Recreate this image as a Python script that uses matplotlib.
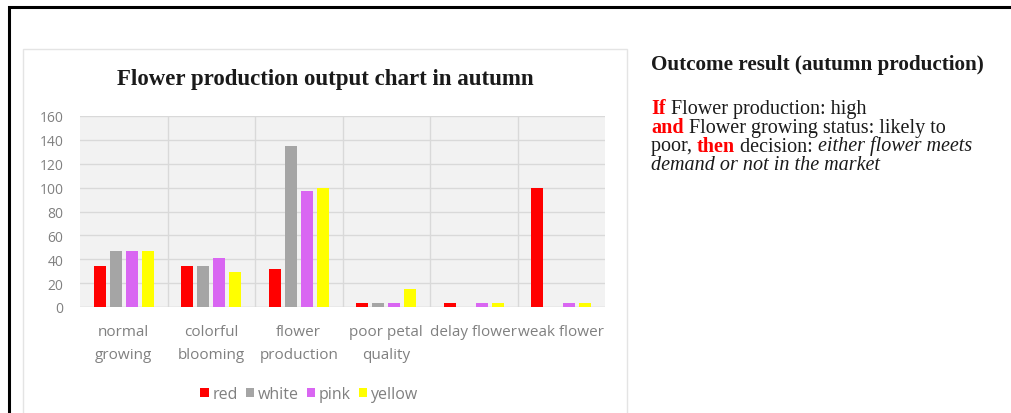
"""Flower production output chart in autumn, with outcome note on the right."""

import matplotlib

matplotlib.use("Agg")
import matplotlib.pyplot as plt  # noqa: E402
from matplotlib.patches import Rectangle  # noqa: E402

categories = ["normal\ngrowing", "colorful\nblooming", "flower\nproduction",
              "poor petal\nquality", "delay flower", "weak flower"]
series_names = ["red", "white", "pink", "yellow"]
red = [34, 34, 32, 3, 3, 100]
white = [47, 34, 135, 3, 0, 0]
pink = [47, 41, 97, 3, 3, 3]
yellow = [47, 29, 100, 15, 3, 3]
y_ticks = [0, 20, 40, 60, 80, 100, 120, 140, 160]

colors = ["#ff0000", "#a5a5a5", "#d966f2", "#ffff00"]
W, H = 1011, 414

fig = plt.figure(figsize=(W / 100, H / 100), dpi=100)
fig.patch.set_facecolor("white")


def px_box(x0, y0, x1, y1):
    """pixel box (top-left origin) -> figure fraction rect"""
    return [x0 / W, 1 - y1 / H, (x1 - x0) / W, (y1 - y0) / H]


# outer black frame and light chart border
fig.patches.append(Rectangle((9 / W, -0.1), 1.1, 1 - 8 / H + 0.1,
                             transform=fig.transFigure, fill=False,
                             edgecolor="black", linewidth=2.2))
fig.patches.append(Rectangle((23 / W, -0.1), (627 - 23) / W, 1 - 50 / H + 0.1,
                             transform=fig.transFigure, fill=False,
                             edgecolor="#e4e4e4", linewidth=1.0))

ax = fig.add_axes(px_box(80, 117, 605, 308))
ax.set_facecolor("#f2f2f2")

n = len(categories)
step = 0.183
width = 0.137
for i, (vals, c) in enumerate(zip([red, white, pink, yellow], colors)):
    xs = [k + (i - 1.5) * step for k in range(n)]
    ax.bar(xs, vals, width=width, color=c, label=series_names[i], zorder=3)

ax.set_xlim(-0.5, n - 0.5)
ax.set_ylim(0, 160)
ax.set_yticks(y_ticks)
ax.set_yticklabels([str(v) for v in y_ticks])
ax.set_xticks(range(n))
ax.set_xticklabels(categories, linespacing=1.8)
ax.set_xticks([k + 0.5 for k in range(n - 1)], minor=True)
ax.grid(axis="y", color="#d9d9d9", linewidth=1.0, zorder=0)
ax.grid(axis="x", which="minor", color="#d9d9d9", linewidth=1.0, zorder=0)
ax.tick_params(axis="both", which="both", length=0, colors="#808080")
ax.tick_params(axis="y", pad=12, labelsize=10)
ax.tick_params(axis="x", pad=12, labelsize=11)
for s in ax.spines.values():
    s.set_visible(False)
ax.axhline(0, color="#d9d9d9", linewidth=1.0, zorder=2)
for lab in ax.get_xticklabels() + ax.get_yticklabels():
    lab.set_fontfamily("Open Sans")

fig.text(325 / W, 1 - 80 / H, "Flower production output chart in autumn",
         ha="center", va="center", fontsize=16.5, fontweight="bold",
         family="Liberation Serif", color="#1a1a1a")

leg = fig.legend(loc="center", bbox_to_anchor=(309 / W, 1 - 395 / H), ncol=4,
                 frameon=False, handlelength=0.55, handleheight=0.55,
                 handletextpad=0.2, columnspacing=0.5,
                 prop={"family": "Open Sans", "size": 11.5})
for t in leg.get_texts():
    t.set_color("#808080")

# right-hand outcome note
serif = "Liberation Serif"
fig.text(651 / W, 1 - 65 / H, "Outcome result (autumn production)",
         ha="left", va="center", fontsize=15.2, fontweight="bold",
         family=serif, color="#1a1a1a")

lines = [
    [("If", "bold", "normal", "#ff0000"),
     (" Flower production: high", "normal", "normal", "#1a1a1a")],
    [("and", "bold", "normal", "#ff0000"),
     (" Flower growing status: likely to", "normal", "normal", "#1a1a1a")],
    [("poor, ", "normal", "normal", "#1a1a1a"),
     ("then", "bold", "normal", "#ff0000"),
     (" decision: ", "normal", "normal", "#1a1a1a"),
     ("either flower meets", "normal", "italic", "#1a1a1a")],
    [("demand or not in the market", "normal", "italic", "#1a1a1a")],
]
line_y = [108, 126.5, 145, 163.5]
for parts, yy in zip(lines, line_y):
    prev = None
    for txt, wt, st, col in parts:
        kw = dict(fontsize=14.5, fontweight=wt, fontstyle=st, family=serif,
                  color=col, va="bottom", ha="left")
        if prev is None:
            prev = fig.text(651 / W, 1 - (yy + 11.5) / H, txt, **kw)
        else:
            prev = fig.add_artist(plt.Annotation(txt, xy=(1, 0),
                                                 xycoords=prev, **kw))

fig.savefig("out.png", dpi=100)
plt.close(fig)
